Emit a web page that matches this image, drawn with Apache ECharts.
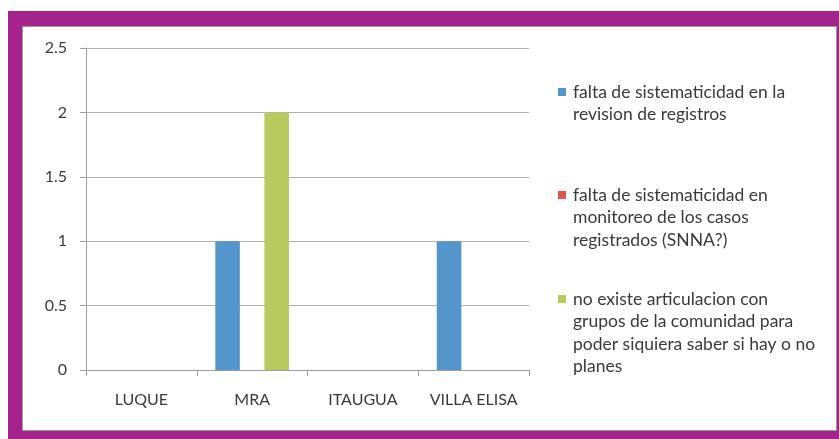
<!DOCTYPE html>
<html lang="es">
<head>
    <meta charset="UTF-8">
    <title>Grafico de barras</title>
    <style>
        body { margin: 0; background: #fff; }
        #frame { position: absolute; left: 8px; top: 11px; width: 831px; height: 428px; background: #A5238D; }
        #panel { position: absolute; left: 22px; top: 26px; width: 815px; height: 405px; background: #fff;
                 border: 1px solid #9a9a9a; box-sizing: border-box; }
        #main { position: absolute; left: 0; top: 0; width: 839px; height: 439px; }
    </style>
</head>
<body>
<div id="frame"></div>
<div id="panel"></div>
<div id="main"></div>
<script src="https://cdn.jsdelivr.net/npm/echarts@6/dist/echarts.min.js"></script>
<script>
    // datos
    var categorias = ['LUQUE', 'MRA', 'ITAUGUA', 'VILLA ELISA'];
    var nombres = [
        'falta de sistematicidad en la\nrevision de registros',
        'falta de sistematicidad en\nmonitoreo de los casos\nregistrados (SNNA?)',
        'no existe articulacion con\ngrupos de la comunidad para\npoder siquiera saber si hay o no\nplanes'
    ];
    var serie1 = [0, 1, 0, 1];
    var serie2 = [0, 0, 0, 0];
    var serie3 = [0, 2, 0, 0];
    var colores = ['#5495CB', '#DB5650', '#B8C95E'];

    var myChart = echarts.init(document.getElementById('main'));
    var fuente = 'Lato';
    var lh = 22.6;

    // una leyenda por serie; se anteponen lineas vacias para que el
    // cuadrito quede a la altura de la primera linea del texto
    var centros = [92, 195, 299];
    var leyendas = nombres.map(function (n, i) {
        var lineas = n.split('\n').length;
        return {
            data: [n],
            orient: 'vertical',
            left: 558,
            top: centros[i] - (2 * lineas - 1) * lh / 2,
            padding: 0,
            icon: 'rect',
            itemWidth: 8,
            itemHeight: 8,
            formatter: function (name) {
                var partes = name.split('\n');
                var todas = [];
                for (var j = 0; j < partes.length - 1; j++) todas.push(' ');
                todas = todas.concat(partes);
                return todas.map(function (l) { return '{t|' + l + '}'; }).join('\n');
            },
            textStyle: {
                fontFamily: fuente,
                fontSize: 17.5,
                lineHeight: lh,
                color: '#3a3a3a',
                rich: {
                    t: { fontFamily: fuente, fontSize: 17.5, lineHeight: lh, color: '#3a3a3a', padding: [0, 0, 0, 2] }
                }
            }
        };
    });

    var option = {
        animation: false,
        color: colores,
        legend: leyendas,
        grid: { left: 86, right: 310, top: 48, bottom: 69 },
        xAxis: {
            type: 'category',
            data: categorias,
            axisLine: { lineStyle: { color: '#9c9c9c' } },
            axisTick: { show: true, interval: 0, length: 6, lineStyle: { color: '#9c9c9c' } },
            axisLabel: { interval: 0, fontFamily: fuente, fontSize: 16, color: '#3a3a3a', margin: 22 }
        },
        yAxis: {
            type: 'value',
            min: 0,
            max: 2.5,
            interval: 0.5,
            axisLine: { show: true, lineStyle: { color: '#9c9c9c' } },
            axisTick: { show: true, length: 6, lineStyle: { color: '#9c9c9c' } },
            axisLabel: { fontFamily: fuente, fontSize: 16, color: '#3a3a3a', margin: 19 },
            splitLine: { lineStyle: { color: '#b0b0b0' } }
        },
        series: [
            { name: nombres[0], type: 'bar', data: serie1, barGap: '0%', barCategoryGap: '33.5%' },
            { name: nombres[1], type: 'bar', data: serie2, barGap: '0%', barCategoryGap: '33.5%' },
            { name: nombres[2], type: 'bar', data: serie3, barGap: '0%', barCategoryGap: '33.5%' }
        ]
    };
    myChart.setOption(option);
</script>
</body>
</html>
